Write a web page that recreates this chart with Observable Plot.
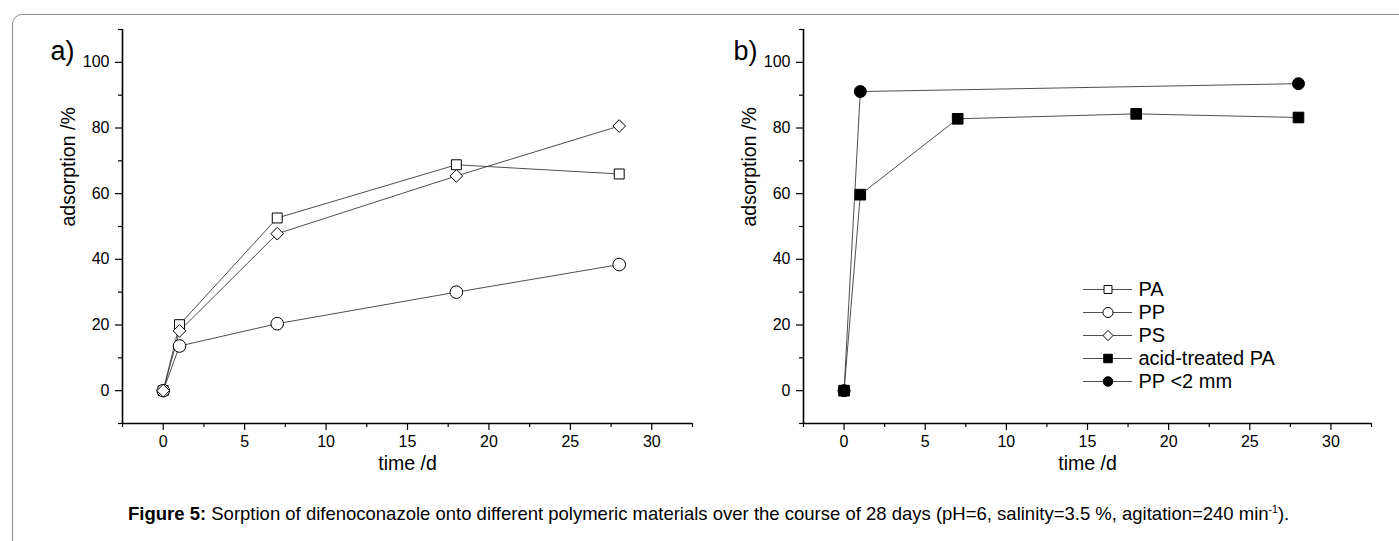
<!DOCTYPE html>
<html>
<head>
<meta charset="utf-8">
<script src="https://cdn.jsdelivr.net/npm/d3@7"></script>
<script src="https://cdn.jsdelivr.net/npm/@observablehq/plot@0.6"></script>
<style>
  body { margin: 0; background: #fff; font-family: "Liberation Sans", Arial, sans-serif; }
  #page { position: relative; width: 1399px; height: 541px; overflow: hidden; background: #fff; }
  #frame { position: absolute; left: 12px; top: 14px; width: 1420px; height: 600px; border: 1px solid #8c8c8c; border-radius: 10px; }
  #a { position: absolute; left: 0; top: 0; }
  #b { position: absolute; left: 700px; top: 0; }
  #legend { position: absolute; left: 1083px; top: 276px; }
  #caption { position: absolute; left: 128px; top: 502px; white-space: nowrap; font-size: 18.5px; line-height: 24px; color: #000; }
  #caption sup { font-size: 10.5px; line-height: 0; }
</style>
</head>
<body>
<div id="page">
  <div id="frame"></div>
  <div id="a"></div>
  <div id="b"></div>
  <div id="legend"></div>
  <div id="caption"><b>Figure 5:</b> Sorption of difenoconazole onto different polymeric materials over the course of 28 days (pH=6, salinity=3.5 %, agitation=240 min<sup>-1</sup>).</div>
</div>
<script>
// ---------- data ----------
const times = [0, 1, 7, 18, 28];
const paValues = [0, 20.1, 52.6, 68.8, 66.0];
const ppValues = [0, 13.6, 20.4, 30.0, 38.4];
const psValues = [0, 18.2, 47.8, 65.4, 80.6];
const acidPaValues = [0, 59.7, 82.8, 84.3, 83.2];
const ppSmallTimes = [0, 1, 28];
const ppSmallValues = [0, 91.1, 93.5];

const seriesNames = ["PA", "PP", "PS", "acid-treated PA", "PP <2 mm"];
const xMajorTicks = [0, 5, 10, 15, 20, 25, 30];
const xMinorTicks = [-2.5, 2.5, 7.5, 12.5, 17.5, 22.5, 27.5, 32.5];
const yMajorTicks = [0, 20, 40, 60, 80, 100];
const yMinorTicks = [-10, 10, 30, 50, 70, 90, 110];
const xDomain = [-2.5, 32.5];
const yDomain = [-10, 110];
const xTitle = "time /d";
const yTitle = "adsorption /%";

// ---------- styles ----------
const markerStyle = {
  "PA": {symbol: "square", fill: "white", r: 5.6},
  "PP": {symbol: "circle", fill: "white", r: 6.3},
  "PS": {symbol: "diamond2", fill: "white", r: 5.7},
  "acid-treated PA": {symbol: "square", fill: "black", r: 6.0},
  "PP <2 mm": {symbol: "circle", fill: "black", r: 6.0}
};
const FONT = "'Liberation Sans', Arial, sans-serif";

function rows(name, xs, ys) { return xs.map((t, i) => ({series: name, time: t, value: ys[i]})); }

const panelA = [
  rows("PA", times, paValues),
  rows("PP", times, ppValues),
  rows("PS", times, psValues)
];
const panelB = [
  rows("PP <2 mm", ppSmallTimes, ppSmallValues),
  rows("acid-treated PA", times, acidPaValues)
];

function panel(data, tag, width, marginLeft, marginRight, tagDx) {
  const lines = data.map(d => Plot.line(d, {x: "time", y: "value", stroke: "#3a3a3a", strokeWidth: 0.9}));
  const dots = data.map(d => {
    const s = markerStyle[d[0].series];
    return Plot.dot(d, {x: "time", y: "value", symbol: () => s.symbol, fill: s.fill, stroke: "#000", strokeWidth: 1, r: s.r});
  });
  return Plot.plot({
    width, height: 485,
    marginLeft, marginRight, marginTop: 29, marginBottom: 62,
    x: {domain: xDomain, label: null},
    y: {domain: yDomain, label: null},
    symbol: {type: "identity"},
    style: {fontFamily: FONT, fontSize: "16px", color: "#000", background: "transparent", overflow: "visible"},
    marks: [
      Plot.axisY(yMajorTicks, {tickSize: 7, tickPadding: 6, strokeWidth: 1.2, label: null, fontSize: 16}),
      Plot.axisY(yMinorTicks, {tickSize: 4, tickFormat: () => "", strokeWidth: 1.2, label: null}),
      Plot.axisX(xMajorTicks, {tickSize: 7, tickPadding: 5, strokeWidth: 1.2, label: null, fontSize: 16}),
      Plot.axisX(xMinorTicks, {tickSize: 4, tickFormat: () => "", strokeWidth: 1.2, label: null}),
      Plot.ruleX([xDomain[0]], {stroke: "#000", strokeWidth: 1.6}),
      Plot.ruleY([yDomain[0]], {stroke: "#000", strokeWidth: 1.6}),
      ...lines,
      ...dots,
      Plot.text([yTitle], {frameAnchor: "left", rotate: -90, dx: -54, fontSize: 19.5, fill: "#000"}),
      Plot.text([xTitle], {frameAnchor: "bottom", dy: 46, fontSize: 19.5, fill: "#000"}),
      Plot.text([tag], {frameAnchor: "top-left", textAnchor: "start", dx: tagDx, dy: 11, fontSize: 27, fill: "#000"})
    ]
  });
}

document.getElementById("a").appendChild(panel(panelA, "a)", 700, 122, 8, -72));
document.getElementById("b").appendChild(panel(panelB, "b)", 699, 103, 28, -70));

// ---------- legend ----------
const legend = Plot.plot({
  width: 240, height: 118,
  marginLeft: 0, marginRight: 191, marginTop: 12, marginBottom: 12,
  y: {type: "point", domain: seriesNames, padding: 0, axis: null},
  symbol: {type: "identity"},
  style: {fontFamily: FONT, background: "transparent", overflow: "visible"},
  marks: [
    Plot.ruleY(seriesNames, {y: d => d, stroke: "#3a3a3a", strokeWidth: 0.9}),
    ...seriesNames.map(n => Plot.dot([n], {y: d => d, frameAnchor: "middle", symbol: () => markerStyle[n].symbol,
      fill: markerStyle[n].fill, stroke: "#000", strokeWidth: 1, r: markerStyle[n].r * 0.8})),
    Plot.text(seriesNames, {y: d => d, text: d => d, frameAnchor: "right", textAnchor: "start", dx: 6, fontSize: 20, fill: "#000"})
  ]
});
document.getElementById("legend").appendChild(legend);
</script>
</body>
</html>
